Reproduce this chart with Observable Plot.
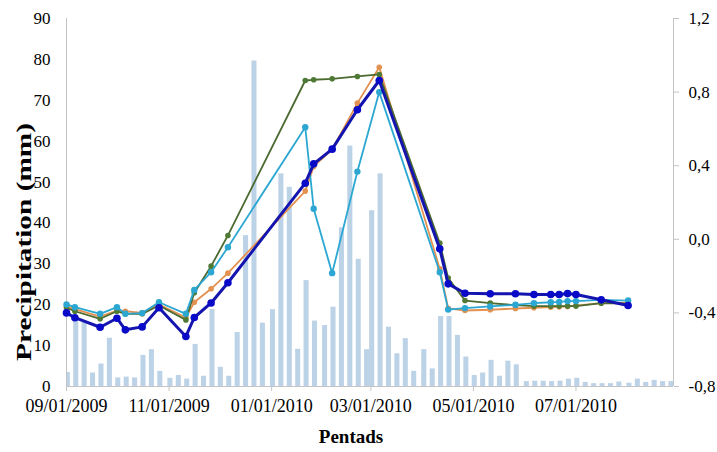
<!DOCTYPE html>
<html>
<head>
<meta charset="utf-8">
<script src="https://cdn.jsdelivr.net/npm/d3@7"></script>
<script src="https://cdn.jsdelivr.net/npm/@observablehq/plot@0.6"></script>
<style>
  html, body { margin: 0; padding: 0; background: #fff; }
  #chart svg { display: block; }
</style>
</head>
<body>
<div id="chart"></div>
<script>
// ---------- data ----------
const months = ["2009-09","2009-10","2009-11","2009-12","2010-01","2010-02",
                "2010-03","2010-04","2010-05","2010-06","2010-07","2010-08"];
const pentadStartDays = ["01","06","11","16","21","26"];

// precipitation per pentad (mm), left axis
const precipitation = [
  3.4, 16.9, 15.7, 3.3, 5.5, 11.8,      // Sep 2009
  2.1, 2.3, 2.1, 7.6, 9.0, 3.7,         // Oct
  2.0, 2.7, 1.8, 10.3, 2.5, 18.8,       // Nov
  4.7, 2.5, 13.2, 36.9, 79.6, 15.5,     // Dec
  18.8, 52.0, 48.7, 9.1, 25.9, 16.0,    // Jan 2010
  14.9, 19.4, 38.8, 58.8, 31.1, 9.0,    // Feb
  43.0, 52.0, 14.5, 8.0, 11.7, 3.7,     // Mar
  9.0, 4.3, 17.1, 17.1, 12.5, 7.2,      // Apr
  2.7, 3.3, 6.4, 2.5, 6.2, 5.3,         // May
  1.2, 1.3, 1.3, 1.2, 1.3, 1.8,         // Jun
  2.0, 1.0, 0.7, 0.7, 0.7, 1.1,         // Jul
  0.8, 1.8, 1.0, 1.5, 1.2, 1.2          // Aug
];

// line series (right axis units)
const lineDates = ["2009-09-01","2009-09-06","2009-09-21","2009-10-01","2009-10-06","2009-10-16",
  "2009-10-26","2009-11-11","2009-11-16","2009-11-26","2009-12-06","2010-01-21","2010-01-26",
  "2010-02-06","2010-02-21","2010-03-06","2010-04-11","2010-04-16","2010-04-26","2010-05-11",
  "2010-05-26","2010-06-06","2010-06-16","2010-06-21","2010-06-26","2010-07-01","2010-07-16","2010-08-01"];
const seriesOrange = [-0.365,-0.380,-0.420,-0.387,-0.391,-0.400,-0.354,-0.425,-0.342,-0.269,-0.184,
  0.262,0.396,0.488,0.740,0.935,-0.161,-0.375,-0.387,-0.383,-0.376,-0.372,-0.369,-0.367,-0.365,-0.360,-0.347,-0.345];
const seriesGreen = [-0.372,-0.391,-0.432,-0.391,-0.405,-0.405,-0.360,-0.438,-0.290,-0.146,0.021,
  0.863,0.867,0.872,0.885,0.896,-0.021,-0.211,-0.333,-0.347,-0.358,-0.363,-0.363,-0.363,-0.363,-0.363,-0.347,-0.350];
const seriesCyan = [-0.354,-0.369,-0.405,-0.369,-0.405,-0.401,-0.342,-0.405,-0.275,-0.179,-0.043,
  0.609,0.166,-0.184,0.368,0.800,-0.179,-0.382,-0.374,-0.365,-0.356,-0.347,-0.342,-0.340,-0.336,-0.336,-0.329,-0.333];
const seriesBlue = [-0.400,-0.426,-0.478,-0.429,-0.492,-0.476,-0.372,-0.528,-0.425,-0.346,-0.236,
  0.305,0.410,0.490,0.704,0.863,-0.052,-0.242,-0.293,-0.296,-0.296,-0.300,-0.300,-0.300,-0.295,-0.300,-0.329,-0.360];

// axes
const leftDomain = [0, 90];
const leftTicks = [0, 10, 20, 30, 40, 50, 60, 70, 80, 90];
const rightDomain = [-0.8, 1.2];
const rightTicks = [-0.8, -0.4, 0, 0.4, 0.8, 1.2];
const rightTickLabels = ["-0,8", "-0,4", "0,0", "0,4", "0,8", "1,2"];
const xDomain = ["2009-09-01", "2010-08-28"];
const xTickDates = ["2009-09-01","2009-11-01","2010-01-01","2010-03-01","2010-05-01","2010-07-01"];
const xTickLabels = ["09/01/2009","11/01/2009","01/01/2010","03/01/2010","05/01/2010","07/01/2010"];
const yTitle = "Precipitation (mm)";
const xTitle = "Pentads";

// ---------- build ----------
const parse = d3.utcParse("%Y-%m-%d");
const pentadDates = months.flatMap(m => pentadStartDays.map(d => parse(`${m}-${d}`)));
const bars = pentadDates.map((date, i) => ({date, value: precipitation[i]}));

const toLeft = v => (v - rightDomain[0]) / (rightDomain[1] - rightDomain[0]) * (leftDomain[1] - leftDomain[0]) + leftDomain[0];
const mk = vals => lineDates.map((d, i) => ({date: parse(d), y: toLeft(vals[i])}));
const rowsOrange = mk(seriesOrange), rowsGreen = mk(seriesGreen), rowsCyan = mk(seriesCyan), rowsBlue = mk(seriesBlue);

const rightPos = rightTicks.map(toLeft);
const rightLabelMap = new Map(rightPos.map((p, i) => [p, rightTickLabels[i]]));
const xTickObjs = xTickDates.map(parse);
const xLabelMap = new Map(xTickObjs.map((d, i) => [+d, xTickLabels[i]]));
const xDom = xDomain.map(parse);

const font = "'Liberation Serif', 'Times New Roman', serif";

const plot = Plot.plot({
  width: 717,
  height: 452,
  marginLeft: 66,
  marginRight: 44,
  marginTop: 18,
  marginBottom: 66,
  style: {fontFamily: font, fontSize: "17px", background: "#fff", color: "#000"},
  x: {type: "utc", domain: xDom},
  y: {domain: leftDomain},
  marks: [
    Plot.rectY(bars, {
      x1: d => d3.utcHour.offset(d.date, -17),
      x2: d => d3.utcHour.offset(d.date, 55),
      y: "value",
      fill: "#bcd2e7",
      clip: true
    }),
    Plot.ruleY([leftDomain[0]], {stroke: "#c4c4c4", strokeWidth: 1}),
    Plot.ruleX([xDom[0]], {stroke: "#c4c4c4", strokeWidth: 1}),
    Plot.ruleX([xDom[1]], {stroke: "#c4c4c4", strokeWidth: 1}),
    Plot.axisY({ticks: leftTicks, tickSize: 0, tickPadding: 16, label: null, fill: "#000"}),
    Plot.axisY({anchor: "right", ticks: rightPos, tickFormat: d => rightLabelMap.get(d), tickSize: 5, tickPadding: 10, label: null, stroke: "#c4c4c4", fill: "#000"}),
    Plot.axisX({ticks: xTickObjs, tickFormat: d => xLabelMap.get(+d), tickSize: 5, tickPadding: 8, label: null, stroke: "#c4c4c4", fill: "#000", fontSize: 18}),
    Plot.text([xTitle], {frameAnchor: "bottom", dx: -19, dy: 56, fontWeight: "bold", fontSize: 19, fill: "#000"}),
    // lines
    Plot.line(rowsOrange, {x: "date", y: "y", stroke: "#e39150", strokeWidth: 1.8}),
    Plot.dot(rowsOrange, {x: "date", y: "y", r: 2.8, fill: "#e39150"}),
    Plot.line(rowsGreen, {x: "date", y: "y", stroke: "#4b6a2f", strokeWidth: 1.8}),
    Plot.dot(rowsGreen, {x: "date", y: "y", r: 2.8, fill: "#4f7a35"}),
    Plot.line(rowsCyan, {x: "date", y: "y", stroke: "#2ba7d2", strokeWidth: 1.8}),
    Plot.dot(rowsCyan, {x: "date", y: "y", r: 3.2, fill: "#2ba7d2"}),
    Plot.line(rowsBlue, {x: "date", y: "y", stroke: "#1414ae", strokeWidth: 3}),
    Plot.dot(rowsBlue, {x: "date", y: "y", r: 3.8, fill: "#0909c8"})
  ]
});

// rotated y-axis title (stretched like the original)
d3.select(plot).append("text")
  .attr("transform", "translate(24,242) rotate(-90)")
  .attr("text-anchor", "middle")
  .attr("dy", "0.35em")
  .attr("font-family", font)
  .attr("font-weight", "bold")
  .attr("font-size", 20)
  .attr("fill", "#000")
  .attr("textLength", 238)
  .attr("lengthAdjust", "spacingAndGlyphs")
  .text(yTitle);

document.getElementById("chart").appendChild(plot);
</script>
</body>
</html>
